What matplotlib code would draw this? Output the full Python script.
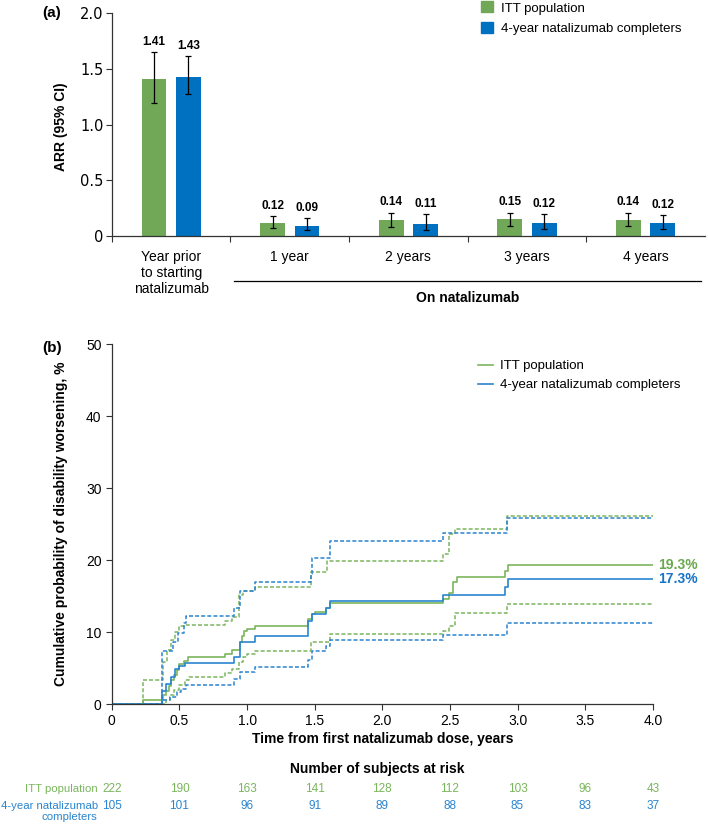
""" ARR bar chart (a) and cumulative probability of disability worsening (b) """
import matplotlib
matplotlib.use("Agg")
import matplotlib.pyplot as plt
from matplotlib.patches import Patch
from matplotlib.lines import Line2D

plt.rcParams['font.family'] = ['Liberation Sans', 'DejaVu Sans']

# ---- Panel (a) data ----
categories = ["Year prior\nto starting\nnatalizumab", "1 year", "2 years", "3 years", "4 years"]
itt_arr = [1.41, 0.12, 0.14, 0.15, 0.14]
itt_lo = [1.19, 0.07, 0.08, 0.09, 0.09]
itt_hi = [1.65, 0.18, 0.21, 0.21, 0.21]
comp_arr = [1.43, 0.09, 0.11, 0.12, 0.12]
comp_lo = [1.27, 0.05, 0.05, 0.06, 0.06]
comp_hi = [1.61, 0.16, 0.20, 0.20, 0.19]

# ---- Panel (b) data: Kaplan-Meier style step curves (time in years, %) ----
itt_t = [0, 0.23, 0.38, 0.40, 0.42, 0.44, 0.46, 0.48, 0.50, 0.53, 0.56, 0.84, 0.89, 0.95, 0.96,
         0.98, 1.00, 1.06, 1.45, 1.48, 1.50, 1.58, 1.61, 2.45, 2.49, 2.52, 2.55, 2.91, 2.93, 4.0]
itt_v = [0, 0.5, 1.2, 1.8, 2.5, 3.3, 4.0, 4.7, 5.5, 6.0, 6.5, 7.0, 7.5, 8.6, 9.5,
         10.2, 10.4, 10.9, 11.8, 12.5, 12.8, 13.4, 14.0, 14.6, 15.4, 16.9, 17.7, 18.5, 19.3, 19.3]
itt_up_t = [0, 0.23, 0.38, 0.41, 0.44, 0.47, 0.50, 0.53, 0.84, 0.89, 0.94, 0.97, 1.06, 1.47,
            1.59, 2.45, 2.49, 2.54, 2.92, 4.0]
itt_up_v = [0, 3.4, 5.9, 7.5, 8.9, 10.0, 10.8, 11.0, 11.5, 12.1, 15.2, 15.7, 16.2, 18.3,
            19.8, 20.9, 23.6, 24.3, 26.1, 26.1]
itt_lo_t = [0, 0.40, 0.43, 0.46, 0.50, 0.54, 0.57, 0.84, 0.89, 0.94, 0.97, 1.00, 1.06, 1.47,
            1.61, 2.45, 2.49, 2.54, 2.92, 4.0]
itt_lo_v = [0, 0.6, 1.2, 1.9, 2.6, 3.3, 3.8, 4.3, 4.9, 5.8, 6.5, 7.0, 7.4, 8.6,
            9.7, 10.2, 10.9, 12.6, 13.9, 13.9]

comp_t = [0, 0.37, 0.40, 0.44, 0.47, 0.50, 0.54, 0.90, 0.95, 1.06, 1.45, 1.48, 1.58, 1.61,
          2.45, 2.91, 2.93, 4.0]
comp_v = [0, 1.8, 2.8, 3.8, 4.8, 5.3, 5.7, 6.6, 8.6, 9.5, 11.6, 12.5, 13.4, 14.3,
          15.2, 16.3, 17.3, 17.3]
comp_up_t = [0, 0.37, 0.45, 0.49, 0.53, 0.55, 0.90, 0.95, 1.06, 1.47, 1.48, 1.61, 2.45, 2.92, 4.0]
comp_up_v = [0, 7.4, 8.6, 9.9, 11.2, 12.2, 13.4, 15.7, 16.9, 18.1, 20.3, 22.6, 23.7, 25.9, 25.9]
comp_lo_t = [0, 0.37, 0.43, 0.48, 0.51, 0.55, 0.90, 0.95, 1.06, 1.45, 1.48, 1.58, 1.61, 2.45, 2.92, 4.0]
comp_lo_v = [0, 0.5, 1.0, 1.7, 2.1, 2.6, 3.5, 4.5, 5.2, 6.1, 7.4, 8.0, 8.9, 9.6, 11.2, 11.2]

risk_times = [0, 0.5, 1.0, 1.5, 2.0, 2.5, 3.0, 3.5, 4.0]
risk_itt = [222, 190, 163, 141, 128, 112, 103, 96, 43]
risk_comp = [105, 101, 96, 91, 89, 88, 85, 83, 37]

# Colours
GREEN_BAR = '#70A858'
BLUE_BAR = '#0070C0'
GREEN_LINE = '#7AB55C'
BLUE_LINE = '#2A84CF'

fig = plt.figure(figsize=(7.08, 8.24), dpi=100)

# ===================== Panel (a) =====================
ax = fig.add_axes([0.158, 0.7136, 0.8376, 0.2706])
x = list(range(len(categories)))
off = 0.145
w = 0.21
ax.bar([i - off for i in x], itt_arr, w, color=GREEN_BAR)
ax.bar([i + off for i in x], comp_arr, w, color=BLUE_BAR)
ax.errorbar([i - off for i in x], itt_arr,
            yerr=[[a - l for a, l in zip(itt_arr, itt_lo)], [h - a for a, h in zip(itt_arr, itt_hi)]],
            fmt='none', ecolor='black', elinewidth=0.9, capsize=2.5, capthick=0.9)
ax.errorbar([i + off for i in x], comp_arr,
            yerr=[[a - l for a, l in zip(comp_arr, comp_lo)], [h - a for a, h in zip(comp_arr, comp_hi)]],
            fmt='none', ecolor='black', elinewidth=0.9, capsize=2.5, capthick=0.9)
for i in x:
    ax.annotate(f"{itt_arr[i]:.2f}", (i - off, itt_hi[i]), xytext=(0, 3), textcoords='offset points',
                ha='center', va='bottom', fontsize=8.5, fontweight='bold')
    ax.annotate(f"{comp_arr[i]:.2f}", (i + off, comp_hi[i]), xytext=(0, 3), textcoords='offset points',
                ha='center', va='bottom', fontsize=8.5, fontweight='bold')

ax.set_xlim(-0.5, 4.5)
ax.set_ylim(0, 2.0)
ax.set_yticks([0, 0.5, 1.0, 1.5, 2.0])
ax.set_yticklabels(["0", "0.5", "1.0", "1.5", "2.0"], fontfamily='DejaVu Sans')
ax.set_xticks([-0.5, 0.5, 1.5, 2.5, 3.5])
ax.set_xticklabels([])
ax.tick_params(axis='both', labelsize=10.5, length=4, width=0.8, color='#333333', pad=2)
for s in ['top', 'right']:
    ax.spines[s].set_visible(False)
for s in ['left', 'bottom']:
    ax.spines[s].set_linewidth(0.9)
    ax.spines[s].set_color('#333333')
ax.set_ylabel("ARR (95% CI)", fontsize=10, fontweight='bold')
ax.yaxis.set_label_coords(-0.074, 0.49)

tr = ax.get_xaxis_transform()
for i, c in enumerate(categories):
    ax.text(i, -0.065, c, transform=tr, ha='center', va='top', fontsize=10, linespacing=1.15)
ax.plot([0.53, 4.47], [-0.20, -0.20], transform=tr, color='black', lw=0.9, clip_on=False)
ax.text(2.5, -0.245, "On natalizumab", transform=tr, ha='center', va='top', fontsize=10,
        fontweight='bold')

ax.legend(handles=[Patch(color=GREEN_BAR, label="ITT population"),
                   Patch(color=BLUE_BAR, label="4-year natalizumab completers")],
          loc='upper left', bbox_to_anchor=(0.602, 1.105), frameon=False, fontsize=9.5,
          handlelength=0.9, handleheight=0.9, handletextpad=0.6, labelspacing=0.6)

fig.text(0.059, 0.984, "(a)", fontsize=11, fontweight='bold', ha='left', va='center')

# ===================== Panel (b) =====================
bx = fig.add_axes([0.158, 0.1456, 0.764, 0.4369])
dash = (0, (2.6, 1.4))
bx.step(itt_t, itt_v, where='post', color=GREEN_LINE, lw=1.2, label="ITT population")
bx.step(comp_t, comp_v, where='post', color=BLUE_LINE, lw=1.2, label="4-year natalizumab completers")
bx.step(itt_up_t, itt_up_v, where='post', color=GREEN_LINE, lw=1.1, linestyle=dash)
bx.step(itt_lo_t, itt_lo_v, where='post', color=GREEN_LINE, lw=1.1, linestyle=dash)
bx.step(comp_up_t, comp_up_v, where='post', color=BLUE_LINE, lw=1.1, linestyle=dash)
bx.step(comp_lo_t, comp_lo_v, where='post', color=BLUE_LINE, lw=1.1, linestyle=dash)

bx.text(4.04, itt_v[-1], f"{itt_v[-1]:.1f}%", color='#6AA84F', fontsize=10, fontweight='bold',
        ha='left', va='center', clip_on=False)
bx.text(4.04, comp_v[-1], f"{comp_v[-1]:.1f}%", color='#1874C8', fontsize=10, fontweight='bold',
        ha='left', va='center', clip_on=False)

bx.set_xlim(0, 4.0)
bx.set_ylim(0, 50)
bx.set_xticks(risk_times)
bx.set_xticklabels(["0", "0.5", "1.0", "1.5", "2.0", "2.5", "3.0", "3.5", "4.0"])
bx.set_yticks([0, 10, 20, 30, 40, 50])
bx.tick_params(axis='both', labelsize=10, length=4, width=0.8, color='#333333')
for s in ['top', 'right']:
    bx.spines[s].set_visible(False)
for s in ['left', 'bottom']:
    bx.spines[s].set_linewidth(0.9)
    bx.spines[s].set_color('#333333')
bx.set_ylabel("Cumulative probability of disability worsening, %", fontsize=10, fontweight='bold')
bx.yaxis.set_label_coords(-0.081, 0.5)
bx.text(0.5, -0.097, "Time from first natalizumab dose, years", transform=bx.transAxes,
        ha='center', va='center', fontsize=10, fontweight='bold')

bx.legend(handles=[Line2D([], [], color=GREEN_LINE, lw=1.2, label="ITT population"),
                   Line2D([], [], color=BLUE_LINE, lw=1.2, label="4-year natalizumab completers")],
          loc='upper left', bbox_to_anchor=(0.655, 0.988), frameon=False, fontsize=9.5,
          handlelength=1.1, handletextpad=0.6, labelspacing=0.5)

# risk table
btr = bx.get_xaxis_transform()
bx.text(0.49, -0.181, "Number of subjects at risk", transform=bx.transAxes, ha='center',
        va='center', fontsize=10, fontweight='bold')
for t, n1, n2 in zip(risk_times, risk_itt, risk_comp):
    bx.text(t, -0.236, str(n1), transform=btr, ha='center', va='center', fontsize=8.5,
            color=GREEN_LINE, clip_on=False)
    bx.text(t, -0.283, str(n2), transform=btr, ha='center', va='center', fontsize=8.5,
            color=BLUE_LINE, clip_on=False)
bx.text(-0.105, -0.236, "ITT population", transform=btr, ha='right', va='center', fontsize=8.2,
        color=GREEN_LINE, clip_on=False)
bx.text(-0.105, -0.283, "4-year natalizumab", transform=btr, ha='right', va='center', fontsize=8.2,
        color=BLUE_LINE, clip_on=False)
bx.text(-0.105, -0.314, "completers", transform=btr, ha='right', va='center', fontsize=8.2,
        color=BLUE_LINE, clip_on=False)

fig.text(0.059, 0.578, "(b)", fontsize=11, fontweight='bold', ha='left', va='center')

fig.savefig("out.png", dpi=100)
